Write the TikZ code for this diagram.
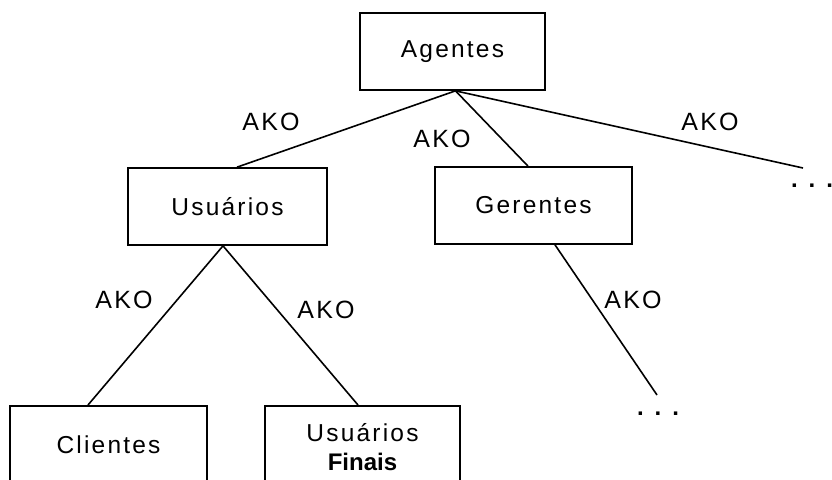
\documentclass[tikz,border=0pt]{standalone}
\usepackage{fontspec}
\setmainfont{Liberation Sans}
\newfontfamily\spacedfont[LetterSpace=9]{Liberation Sans}
\begin{document}
\begin{tikzpicture}[x=1pt,y=1pt,
  box/.style={draw, line width=1.7pt, rectangle, minimum height=77pt,
    inner sep=0pt, align=center, font=\fontsize{24.5}{27}\spacedfont},
  link/.style={line width=1.6pt},
  ako/.style={font=\fontsize{25}{28}\spacedfont, inner sep=0pt},
  more/.style={font=\fontsize{24}{26}\bfseries, inner sep=0pt, anchor=base}]
\useasboundingbox (0,0) rectangle (832,-479);
\clip (0,0) rectangle (832,-479);

% boxes
\node[box, minimum width=185pt] (ag) at (452.5,-51.5) {Agentes};
\node[box, minimum width=199pt] (usr) at (227.5,-206.5) {Usuários};
\node[box, minimum width=197pt] (ger) at (533.5,-205.5) {Gerentes};
\node[box, minimum width=197pt, anchor=north] (cli) at (108.5,-405) {Clientes};
\node[box, minimum width=195pt, minimum height=82pt, anchor=north] (uf) at (362.5,-405)
  {Usuários\\[2pt]{\fontsize{24}{27}\rmfamily\bfseries Finais}};

% open ends
\coordinate (agend) at (803,-168);
\coordinate (gerend) at (657,-395);
\node[more] (agdots) at (812,-187.5) {.\hspace{11pt}.\hspace{11pt}.};
\node[more] (gerdots) at (658,-415) {.\hspace{11pt}.\hspace{11pt}.};

% AKO links
\draw[link] ([xshift=3pt]ag.south) -- ([xshift=9.5pt]usr.north);
\draw[link] ([xshift=3pt]ag.south) -- ([xshift=-5.5pt]ger.north);
\draw[link] ([xshift=3pt]ag.south) -- (agend);
\draw[link] ([xshift=-4.5pt]usr.south) -- ([xshift=-20.5pt]cli.north);
\draw[link] ([xshift=-4.5pt]usr.south) -- ([xshift=-4.5pt]uf.north);
\draw[link] ([xshift=21.5pt]ger.south) -- (gerend);

% labels
\node[ako] (l1) at (271,-122) {AKO};
\node[ako] (l2) at (442,-139) {AKO};
\node[ako] (l3) at (710,-122) {AKO};
\node[ako] (l4) at (124,-300) {AKO};
\node[ako] (l5) at (326,-310) {AKO};
\node[ako] (l6) at (633,-300) {AKO};
\end{tikzpicture}
\end{document}
